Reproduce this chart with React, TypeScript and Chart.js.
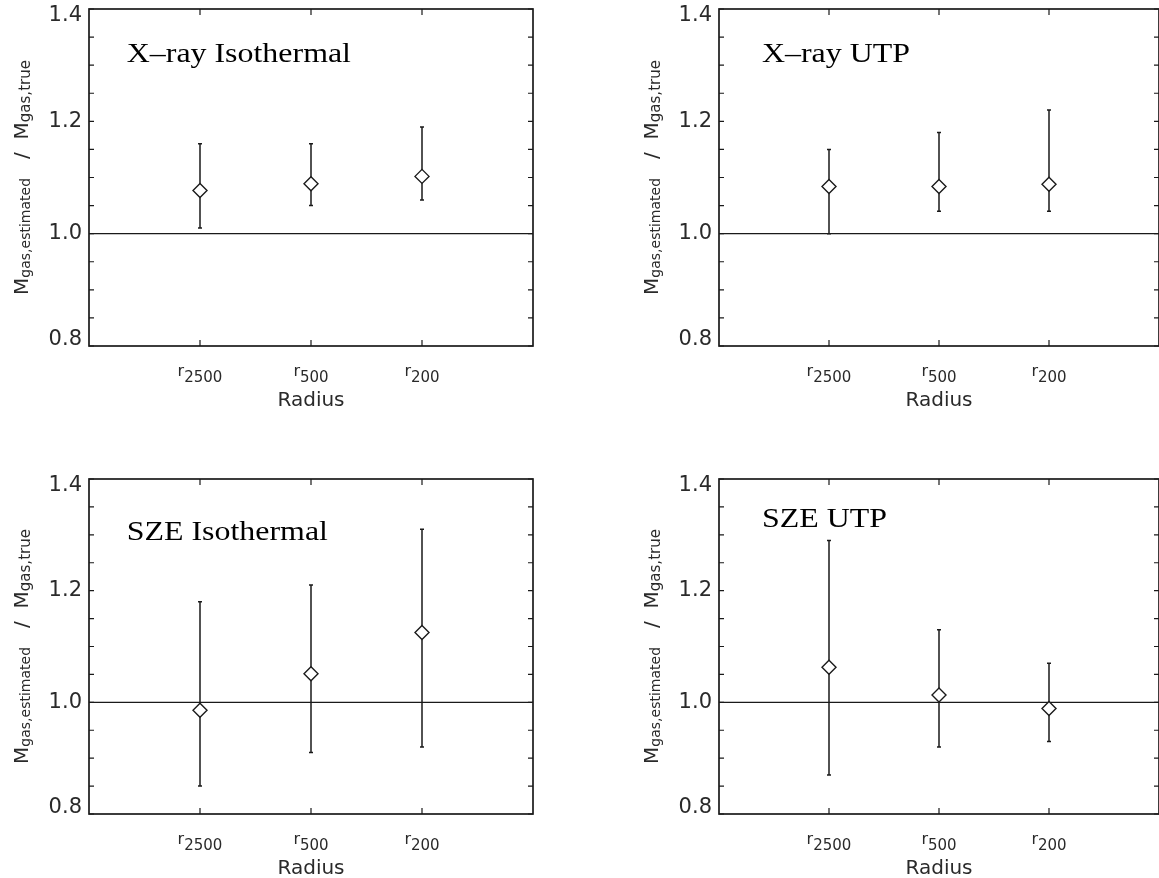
import React, { useEffect, useRef } from 'react';
import { Chart, registerables } from 'chart.js';

Chart.register(...registerables);

// ---- data ----
const RADIUS_LABELS = ['2500', '500', '200'];
const RADIUS_X = [1, 2, 3];
const X_MIN = 0;
const X_MAX = 4;
const Y_MIN = 0.8;
const Y_MAX = 1.4;
const Y_MINOR_STEP = 0.05;
const Y_MAJOR_STEP = 0.2;
const REFERENCE_RATIO = 1.0;

const XRAY_ISO_MEAN = [1.077, 1.089, 1.102];
const XRAY_ISO_LOW = [1.01, 1.05, 1.06];
const XRAY_ISO_HIGH = [1.16, 1.16, 1.19];

const XRAY_UTP_MEAN = [1.084, 1.084, 1.088];
const XRAY_UTP_LOW = [1.0, 1.04, 1.04];
const XRAY_UTP_HIGH = [1.15, 1.18, 1.22];

const SZE_ISO_MEAN = [0.986, 1.051, 1.125];
const SZE_ISO_LOW = [0.85, 0.91, 0.92];
const SZE_ISO_HIGH = [1.18, 1.21, 1.31];

const SZE_UTP_MEAN = [1.063, 1.013, 0.989];
const SZE_UTP_LOW = [0.87, 0.92, 0.93];
const SZE_UTP_HIGH = [1.29, 1.13, 1.07];

const PANEL_TITLES = ['X\u2013ray Isothermal', 'X\u2013ray UTP', 'SZE Isothermal', 'SZE UTP'];

// ---- layout / style ----
const SANS = '"DejaVu Sans", "Liberation Sans", sans-serif';
const SERIF = '"Liberation Serif", "DejaVu Serif", serif';
const INK = '#1a1a1a';
const TEXT_INK = '#2a2a2a';
const END_LABEL_SHIFT = 13; // px line height used to nudge end labels inside the frame

type PanelCfg = {
  title: string;
  mean: number[];
  low: number[];
  high: number[];
  left: number;
  top: number;
  width: number;
  height: number;
  plotLeft: number;
  plotTop: number;
  plotWidth: number;
  plotHeight: number;
  titleX: number;
  titleY: number;
};

const PANELS: PanelCfg[] = [
  {
    title: PANEL_TITLES[0], mean: XRAY_ISO_MEAN, low: XRAY_ISO_LOW, high: XRAY_ISO_HIGH,
    left: 0, top: 0, width: 579, height: 439,
    plotLeft: 89, plotTop: 9, plotWidth: 444, plotHeight: 337,
    titleX: 0.34, titleY: 1.306,
  },
  {
    title: PANEL_TITLES[1], mean: XRAY_UTP_MEAN, low: XRAY_UTP_LOW, high: XRAY_UTP_HIGH,
    left: 630, top: 0, width: 529, height: 439,
    plotLeft: 89, plotTop: 9, plotWidth: 440, plotHeight: 337,
    titleX: 0.39, titleY: 1.306,
  },
  {
    title: PANEL_TITLES[2], mean: SZE_ISO_MEAN, low: SZE_ISO_LOW, high: SZE_ISO_HIGH,
    left: 0, top: 460, width: 579, height: 418,
    plotLeft: 89, plotTop: 19, plotWidth: 444, plotHeight: 335,
    titleX: 0.34, titleY: 1.291,
  },
  {
    title: PANEL_TITLES[3], mean: SZE_UTP_MEAN, low: SZE_UTP_LOW, high: SZE_UTP_HIGH,
    left: 630, top: 460, width: 529, height: 418,
    plotLeft: 89, plotTop: 19, plotWidth: 440, plotHeight: 335,
    titleX: 0.39, titleY: 1.314,
  },
];

function isMajor(v: number) {
  const k = v / Y_MAJOR_STEP;
  return Math.abs(k - Math.round(k)) < 1e-6;
}
function near(a: number, b: number) {
  return Math.abs(a - b) < 1e-6;
}

type Part = { text: string; size: number; dy: number };

function drawParts(ctx: CanvasRenderingContext2D, parts: Part[], cx: number, baseY: number) {
  let total = 0;
  const widths = parts.map((p) => {
    ctx.font = `${p.size}px ${SANS}`;
    const w = ctx.measureText(p.text).width;
    total += w;
    return w;
  });
  let x = cx - total / 2;
  parts.forEach((p, i) => {
    ctx.font = `${p.size}px ${SANS}`;
    ctx.fillText(p.text, x, baseY + p.dy);
    x += widths[i];
  });
}

function makePlugin(cfg: PanelCfg) {
  return {
    id: 'frame',
    beforeDatasetsDraw(chart: any) {
      const { ctx } = chart;
      const xs = chart.scales.x;
      const ys = chart.scales.y;
      ctx.save();
      ctx.strokeStyle = INK;
      ctx.lineWidth = 1.5;
      RADIUS_X.forEach((xv, i) => {
        const px = xs.getPixelForValue(xv);
        const pl = ys.getPixelForValue(cfg.low[i]);
        const ph = ys.getPixelForValue(cfg.high[i]);
        ctx.beginPath();
        ctx.moveTo(px, pl);
        ctx.lineTo(px, ph);
        ctx.moveTo(px - 2, pl);
        ctx.lineTo(px + 2, pl);
        ctx.moveTo(px - 2, ph);
        ctx.lineTo(px + 2, ph);
        ctx.stroke();
      });
      ctx.restore();
    },
    afterDraw(chart: any) {
      const { ctx, chartArea: a } = chart;
      const xs = chart.scales.x;
      const ys = chart.scales.y;
      ctx.save();
      // frame
      ctx.strokeStyle = INK;
      ctx.lineWidth = 1.7;
      ctx.strokeRect(a.left, a.top, a.right - a.left, a.bottom - a.top);
      // inward ticks
      ctx.lineWidth = 1.2;
      ys.ticks.forEach((t: any) => {
        const py = ys.getPixelForValue(t.value);
        ctx.beginPath();
        ctx.moveTo(a.left, py);
        ctx.lineTo(a.left + 5, py);
        ctx.moveTo(a.right, py);
        ctx.lineTo(a.right - 5, py);
        ctx.stroke();
      });
      xs.ticks.forEach((t: any) => {
        const px = xs.getPixelForValue(t.value);
        ctx.beginPath();
        ctx.moveTo(px, a.top);
        ctx.lineTo(px, a.top + 6);
        ctx.moveTo(px, a.bottom);
        ctx.lineTo(px, a.bottom - 6);
        ctx.stroke();
      });
      // x tick labels r_N
      ctx.fillStyle = TEXT_INK;
      ctx.textAlign = 'left';
      ctx.textBaseline = 'alphabetic';
      xs.ticks.forEach((t: any) => {
        const idx = RADIUS_X.indexOf(t.value);
        if (idx < 0) return;
        const px = xs.getPixelForValue(t.value);
        drawParts(
          ctx,
          [
            { text: 'r', size: 16, dy: 0 },
            { text: RADIUS_LABELS[idx], size: 15, dy: 6 },
          ],
          px,
          a.bottom + 30,
        );
      });
      // x title
      ctx.textAlign = 'center';
      ctx.font = `20px ${SANS}`;
      ctx.fillText('Radius', (a.left + a.right) / 2, a.bottom + 60);
      // y title (rotated, with subscripts)
      ctx.save();
      ctx.translate(a.left - 61, (a.top + a.bottom) / 2);
      ctx.rotate(-Math.PI / 2);
      ctx.textAlign = 'left';
      drawParts(
        ctx,
        [
          { text: 'M', size: 20, dy: 0 },
          { text: 'gas,estimated', size: 14, dy: 2 },
          { text: '   /  ', size: 20, dy: 0 },
          { text: 'M', size: 20, dy: 0 },
          { text: 'gas,true', size: 15, dy: 2 },
        ],
        0,
        0,
      );
      ctx.restore();
      // panel title (Times-like, slightly wide)
      ctx.save();
      ctx.textAlign = 'left';
      ctx.font = `28px ${SERIF}`;
      ctx.fillStyle = '#000';
      ctx.translate(xs.getPixelForValue(cfg.titleX), ys.getPixelForValue(cfg.titleY));
      ctx.scale(1.14, 1);
      ctx.fillText(cfg.title, 0, 0);
      ctx.restore();
      ctx.restore();
    },
  };
}

function Panel({ cfg }: { cfg: PanelCfg }) {
  const ref = useRef<HTMLCanvasElement>(null);
  useEffect(() => {
    const canvas = ref.current;
    if (!canvas) return;
    const chart = new Chart(canvas, {
      type: 'scatter',
      data: {
        datasets: [
          {
            type: 'scatter',
            data: RADIUS_X.map((x, i) => ({ x, y: cfg.mean[i] })),
            pointStyle: 'rectRot',
            pointRadius: 7,
            pointBackgroundColor: '#ffffff',
            pointBorderColor: INK,
            pointBorderWidth: 1.4,
            showLine: false,
          } as any,
          {
            type: 'line',
            data: [
              { x: X_MIN, y: REFERENCE_RATIO },
              { x: X_MAX, y: REFERENCE_RATIO },
            ],
            borderColor: INK,
            borderWidth: 1.4,
            pointRadius: 0,
            fill: false,
          } as any,
        ],
      },
      options: {
        animation: false,
        responsive: false,
        devicePixelRatio: 1,
        events: [],
        layout: {
          autoPadding: false,
          padding: {
            left: 0,
            top: cfg.plotTop,
            right: cfg.width - cfg.plotLeft - cfg.plotWidth,
            bottom: 0,
          },
        },
        plugins: {
          legend: { display: false },
          tooltip: { enabled: false },
        },
        scales: {
          x: {
            type: 'linear',
            min: X_MIN,
            max: X_MAX,
            afterBuildTicks: (s: any) => {
              s.ticks = RADIUS_X.map((v) => ({ value: v }));
            },
            afterFit: (s: any) => {
              s.height = cfg.height - cfg.plotTop - cfg.plotHeight;
            },
            ticks: { display: false },
            grid: { display: false, drawTicks: false },
            border: { display: false },
          },
          y: {
            type: 'linear',
            min: Y_MIN,
            max: Y_MAX,
            afterFit: (s: any) => {
              s.width = cfg.plotLeft;
              s.paddingTop = 0;
              s.paddingBottom = 0;
            },
            ticks: {
              stepSize: Y_MINOR_STEP,
              autoSkip: false,
              padding: 7,
              color: TEXT_INK,
              font: { family: SANS, size: 21, lineHeight: `${END_LABEL_SHIFT}px` },
              callback: (v: any) => {
                const n = Number(v);
                if (!isMajor(n)) return '';
                const s = n.toFixed(1);
                if (near(n, Y_MAX)) return ['', s];
                if (near(n, Y_MIN)) return [s, ''];
                return s;
              },
            },
            grid: { display: false, drawTicks: false },
            border: { display: false },
          },
        },
      } as any,
      plugins: [makePlugin(cfg) as any],
    });
    return () => chart.destroy();
  }, [cfg]);
  return (
    <canvas
      ref={ref}
      width={cfg.width}
      height={cfg.height}
      style={{
        position: 'absolute',
        left: cfg.left,
        top: cfg.top,
        width: cfg.width,
        height: cfg.height,
        display: 'block',
      }}
    />
  );
}

export default function App() {
  return (
    <div
      style={{
        position: 'absolute',
        left: 0,
        top: 0,
        width: 1159,
        height: 878,
        overflow: 'hidden',
        background: '#fff',
      }}
    >
      {PANELS.map((p, i) => (
        <Panel key={i} cfg={p} />
      ))}
    </div>
  );
}
